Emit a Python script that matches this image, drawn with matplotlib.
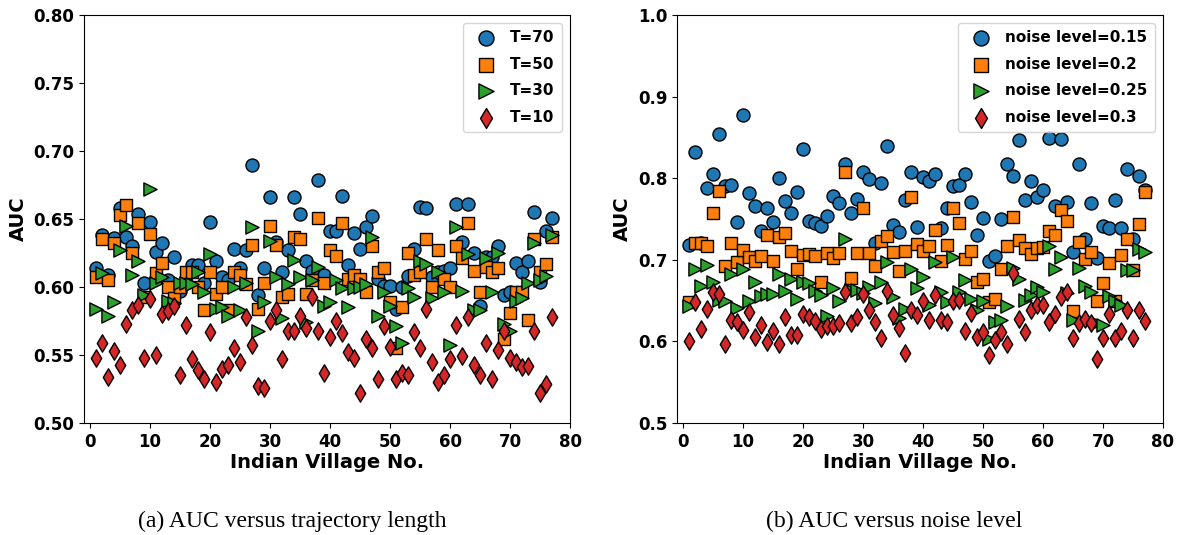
import matplotlib
matplotlib.use("Agg")
import matplotlib.pyplot as plt
import numpy as np

villages = list(range(1, 78))

# Panel (a): AUC versus trajectory length
t70 = [0.614, 0.638, 0.609, 0.636, 0.658, 0.637, 0.630, 0.654, 0.603, 0.648,
       0.626, 0.632, 0.605, 0.622, 0.597, 0.603, 0.616, 0.616, 0.603, 0.648,
       0.619, 0.607, 0.605, 0.628, 0.614, 0.627, 0.690, 0.594, 0.614, 0.666,
       0.633, 0.611, 0.627, 0.666, 0.654, 0.619, 0.612, 0.679, 0.609, 0.641,
       0.641, 0.667, 0.616, 0.640, 0.628, 0.644, 0.652, 0.606, 0.601, 0.601,
       0.584, 0.600, 0.608, 0.628, 0.659, 0.658, 0.607, 0.611, 0.612, 0.614,
       0.661, 0.633, 0.661, 0.625, 0.586, 0.622, 0.622, 0.630, 0.594, 0.596,
       0.618, 0.611, 0.619, 0.655, 0.604, 0.641, 0.651]
t50 = [0.607, 0.635, 0.605, 0.632, 0.653, 0.660, 0.625, 0.647, 0.593, 0.639,
       0.610, 0.618, 0.600, 0.592, 0.600, 0.611, 0.611, 0.600, 0.583, 0.611,
       0.595, 0.600, 0.583, 0.611, 0.609, 0.602, 0.631, 0.584, 0.603, 0.645,
       0.631, 0.593, 0.595, 0.637, 0.635, 0.595, 0.605, 0.651, 0.603, 0.627,
       0.623, 0.647, 0.606, 0.609, 0.606, 0.596, 0.630, 0.611, 0.614, 0.589,
       0.555, 0.585, 0.625, 0.609, 0.611, 0.635, 0.600, 0.627, 0.606, 0.600,
       0.630, 0.621, 0.647, 0.612, 0.596, 0.615, 0.611, 0.614, 0.562, 0.581,
       0.596, 0.596, 0.576, 0.635, 0.611, 0.617, 0.637]
t30 = [0.584, 0.610, 0.579, 0.589, 0.627, 0.645, 0.609, 0.619, 0.594, 0.672,
       0.603, 0.607, 0.590, 0.588, 0.603, 0.603, 0.602, 0.611, 0.596, 0.624,
       0.584, 0.585, 0.579, 0.600, 0.583, 0.603, 0.644, 0.568, 0.589, 0.634,
       0.607, 0.577, 0.602, 0.620, 0.607, 0.574, 0.605, 0.615, 0.586, 0.589,
       0.605, 0.599, 0.585, 0.599, 0.600, 0.602, 0.637, 0.579, 0.596, 0.586,
       0.571, 0.559, 0.599, 0.593, 0.619, 0.617, 0.592, 0.611, 0.596, 0.557,
       0.644, 0.597, 0.624, 0.583, 0.583, 0.621, 0.596, 0.625, 0.573, 0.568,
       0.590, 0.592, 0.603, 0.632, 0.605, 0.608, 0.638]
t10 = [0.548, 0.559, 0.534, 0.553, 0.543, 0.573, 0.583, 0.587, 0.548, 0.591,
       0.550, 0.580, 0.582, 0.586, 0.535, 0.572, 0.547, 0.539, 0.532, 0.567,
       0.530, 0.540, 0.543, 0.555, 0.545, 0.578, 0.557, 0.527, 0.526, 0.575,
       0.583, 0.547, 0.568, 0.568, 0.579, 0.570, 0.593, 0.568, 0.537, 0.563,
       0.575, 0.566, 0.552, 0.548, 0.522, 0.562, 0.555, 0.532, 0.571, 0.556,
       0.532, 0.537, 0.535, 0.567, 0.555, 0.584, 0.545, 0.530, 0.535, 0.547,
       0.572, 0.549, 0.578, 0.543, 0.535, 0.559, 0.532, 0.554, 0.568, 0.548,
       0.545, 0.541, 0.542, 0.568, 0.522, 0.529, 0.578]

# Panel (b): AUC versus noise level
n015 = [0.718, 0.832, 0.720, 0.788, 0.805, 0.854, 0.790, 0.792, 0.746, 0.878,
        0.782, 0.766, 0.735, 0.763, 0.746, 0.800, 0.772, 0.757, 0.783, 0.836,
        0.747, 0.745, 0.741, 0.754, 0.778, 0.769, 0.817, 0.757, 0.775, 0.807,
        0.799, 0.721, 0.794, 0.840, 0.743, 0.734, 0.773, 0.808, 0.740, 0.802,
        0.796, 0.805, 0.739, 0.764, 0.790, 0.792, 0.805, 0.771, 0.731, 0.751,
        0.698, 0.705, 0.750, 0.817, 0.803, 0.847, 0.773, 0.796, 0.777, 0.785,
        0.849, 0.766, 0.848, 0.771, 0.709, 0.817, 0.725, 0.769, 0.702, 0.742,
        0.739, 0.773, 0.739, 0.811, 0.726, 0.803, 0.785]
n020 = [0.648, 0.721, 0.721, 0.717, 0.757, 0.784, 0.692, 0.721, 0.697, 0.712,
        0.704, 0.698, 0.705, 0.730, 0.699, 0.728, 0.733, 0.711, 0.689, 0.706,
        0.707, 0.705, 0.673, 0.708, 0.702, 0.708, 0.807, 0.678, 0.708, 0.763,
        0.708, 0.693, 0.723, 0.729, 0.709, 0.686, 0.711, 0.777, 0.719, 0.711,
        0.717, 0.737, 0.699, 0.718, 0.763, 0.745, 0.701, 0.711, 0.673, 0.676,
        0.648, 0.652, 0.689, 0.717, 0.753, 0.724, 0.714, 0.707, 0.715, 0.716,
        0.735, 0.731, 0.761, 0.748, 0.637, 0.722, 0.701, 0.709, 0.650, 0.671,
        0.696, 0.650, 0.706, 0.725, 0.687, 0.744, 0.783]
n025 = [0.643, 0.689, 0.668, 0.694, 0.673, 0.651, 0.650, 0.683, 0.641, 0.689,
        0.650, 0.673, 0.656, 0.658, 0.658, 0.683, 0.662, 0.676, 0.652, 0.673,
        0.672, 0.662, 0.657, 0.631, 0.666, 0.650, 0.725, 0.663, 0.663, 0.659,
        0.667, 0.647, 0.673, 0.697, 0.654, 0.629, 0.640, 0.689, 0.666, 0.679,
        0.645, 0.697, 0.661, 0.648, 0.703, 0.661, 0.675, 0.652, 0.638, 0.649,
        0.603, 0.624, 0.626, 0.643, 0.690, 0.677, 0.651, 0.657, 0.667, 0.660,
        0.717, 0.689, 0.703, 0.659, 0.626, 0.690, 0.668, 0.661, 0.622, 0.620,
        0.656, 0.649, 0.644, 0.687, 0.688, 0.713, 0.709]
n030 = [0.601, 0.648, 0.615, 0.640, 0.661, 0.658, 0.597, 0.626, 0.624, 0.614,
        0.636, 0.606, 0.620, 0.599, 0.613, 0.597, 0.630, 0.608, 0.608, 0.634,
        0.630, 0.625, 0.615, 0.619, 0.619, 0.622, 0.661, 0.622, 0.630, 0.658,
        0.638, 0.624, 0.604, 0.662, 0.632, 0.617, 0.586, 0.638, 0.632, 0.649,
        0.626, 0.657, 0.626, 0.624, 0.649, 0.651, 0.613, 0.635, 0.606, 0.611,
        0.583, 0.602, 0.611, 0.597, 0.684, 0.628, 0.612, 0.638, 0.644, 0.644,
        0.624, 0.634, 0.655, 0.660, 0.604, 0.622, 0.628, 0.622, 0.579, 0.604,
        0.634, 0.604, 0.613, 0.639, 0.604, 0.639, 0.625]

labels_a = ["T=70", "T=50", "T=30", "T=10"]
labels_b = ["noise level=0.15", "noise level=0.2", "noise level=0.25", "noise level=0.3"]
caption_a = "(a) AUC versus trajectory length"
caption_b = "(b) AUC versus noise level"
colors = ["#1f77b4", "#ff7f0e", "#2ca02c", "#d62728"]
markers = ["o", "s", ">", "d"]
sizes = [88, 80, 90, 78]

W, H = 1187, 535
fig = plt.figure(figsize=(W / 100, H / 100), dpi=100)

def make_axes(x0, x1, y0, y1):
    return fig.add_axes([x0 / W, 1 - y1 / H, (x1 - x0) / W, (y1 - y0) / H])

ax1 = make_axes(84, 570, 15, 423)
ax2 = make_axes(677, 1163, 15, 423)

def draw(ax, series, labels, ylim, yticks, yfmt):
    for s, lab, c, m, sz in zip(series, labels, colors, markers, sizes):
        ax.scatter(villages, s, s=sz, c=c, marker=m, edgecolors="black",
                   linewidths=1.0, label=lab, zorder=3)
    ax.set_xlim(-1, 80)
    ax.set_ylim(*ylim)
    ax.set_xticks(range(0, 81, 10))
    ax.set_yticks(yticks)
    ax.set_yticklabels([yfmt.format(v) for v in yticks])
    for lbl in ax.get_xticklabels() + ax.get_yticklabels():
        lbl.set_fontweight("bold")
        lbl.set_fontsize(12)
    ax.set_xlabel("Indian Village No.", fontsize=14, fontweight="bold", labelpad=2)
    ax.set_ylabel("AUC", fontsize=14, fontweight="bold")
    ax.legend(loc="upper right", prop={"weight": "bold", "size": 11},
              handletextpad=0.6, labelspacing=0.75, borderpad=0.5,
              markerscale=1.15)

draw(ax1, [t70, t50, t30, t10], labels_a, (0.5, 0.8),
     [0.50, 0.55, 0.60, 0.65, 0.70, 0.75, 0.80], "{:.2f}")
draw(ax2, [n015, n020, n025, n030], labels_b, (0.5, 1.0),
     [0.5, 0.6, 0.7, 0.8, 0.9, 1.0], "{:.1f}")

fig.text(292 / W, 1 - 521 / H, caption_a, ha="center", va="center",
         fontsize=17, family="Liberation Serif")
fig.text(894 / W, 1 - 521 / H, caption_b, ha="center", va="center",
         fontsize=17, family="Liberation Serif")

fig.savefig("out.png", dpi=100)
